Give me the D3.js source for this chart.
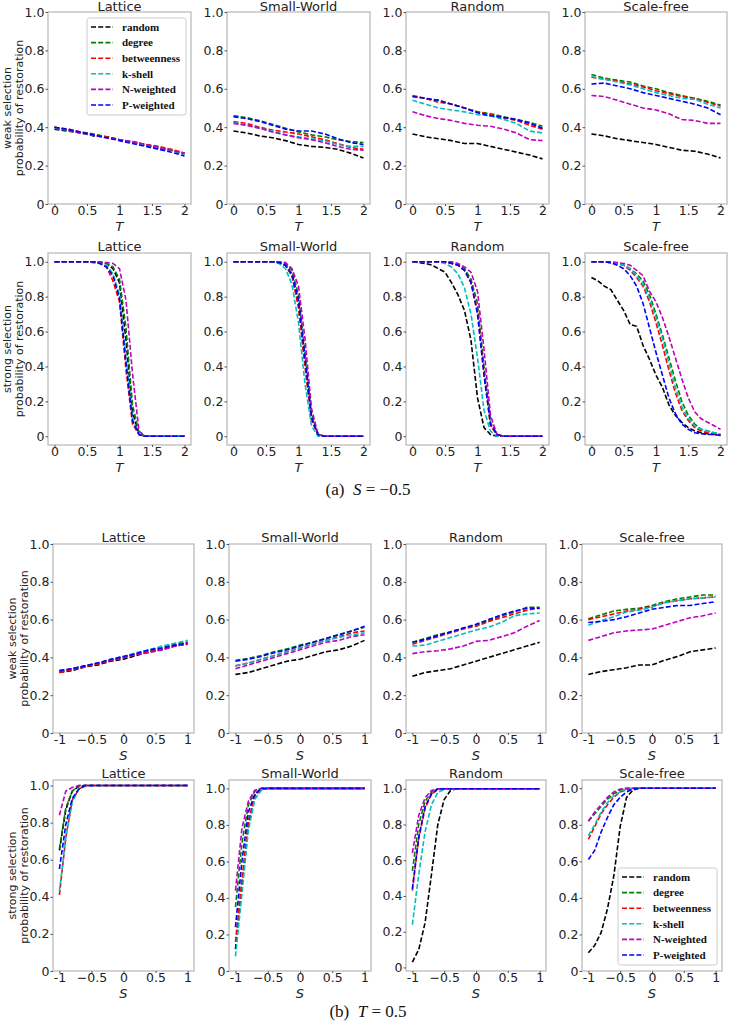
<!DOCTYPE html>
<html>
<head>
<meta charset="utf-8">
<script src="https://cdn.jsdelivr.net/npm/d3@7"></script>
<style>
  body { margin: 0; background: #fff; }
  svg text { font-family: "DejaVu Sans", sans-serif; }
</style>
</head>
<body>
<div id="chart"></div>
<script>
// x values
const T_COARSE = [0, 0.2, 0.4, 0.6, 0.8, 1.0, 1.2, 1.4, 1.6, 1.8, 2.0];
const T_FINE = [0, 0.1, 0.2, 0.3, 0.4, 0.5, 0.6, 0.7, 0.8, 0.9, 1.0, 1.1, 1.2, 1.3, 1.4, 1.5, 1.6, 1.7, 1.8, 1.9, 2.0];
const S_COARSE = [-1, -0.8, -0.6, -0.4, -0.2, 0, 0.2, 0.4, 0.6, 0.8, 1];
const S_FINE = [-1, -0.9, -0.8, -0.7, -0.6, -0.5, -0.4, -0.3, -0.2, -0.1, 0, 0.1, 0.2, 0.3, 0.4, 0.5, 0.6, 0.7, 0.8, 0.9, 1];

const methods = ["random", "degree", "betweenness", "k-shell", "N-weighted", "P-weighted"];
const methodColors = ["#000000", "#008000", "#ff0000", "#00bfbf", "#bf00bf", "#0000ff"];
const networks = ["Lattice", "Small-World", "Random", "Scale-free"];

const yTicks = [0, 0.2, 0.4, 0.6, 0.8, 1.0];
const yTickLabels = ["0", "0.2", "0.4", "0.6", "0.8", "1.0"];
const tTicks = [0, 0.5, 1, 1.5, 2];
const tTickLabels = ["0", "0.5", "1", "1.5", "2"];
const sTicks = [-1, -0.5, 0, 0.5, 1];
const sTickLabels = ["-1", "\u22120.5", "0", "0.5", "1"];

// (a) S = -0.5, weak selection, vs T (series order = methods)
const weakT_lattice = [
  [0.39, 0.38, 0.37, 0.355, 0.35, 0.335, 0.32, 0.305, 0.29, 0.28, 0.26],
  [0.40, 0.385, 0.375, 0.365, 0.35, 0.335, 0.32, 0.31, 0.295, 0.28, 0.265],
  [0.40, 0.39, 0.375, 0.36, 0.35, 0.335, 0.325, 0.31, 0.30, 0.285, 0.265],
  [0.395, 0.385, 0.37, 0.36, 0.345, 0.335, 0.32, 0.305, 0.295, 0.28, 0.26],
  [0.40, 0.385, 0.37, 0.36, 0.345, 0.335, 0.325, 0.31, 0.295, 0.28, 0.265],
  [0.40, 0.39, 0.375, 0.36, 0.345, 0.33, 0.315, 0.30, 0.285, 0.27, 0.25]
];
const weakT_smallworld = [
  [0.38, 0.37, 0.355, 0.345, 0.33, 0.31, 0.30, 0.295, 0.285, 0.265, 0.24],
  [0.46, 0.45, 0.435, 0.415, 0.395, 0.375, 0.36, 0.35, 0.335, 0.325, 0.32],
  [0.43, 0.42, 0.40, 0.385, 0.375, 0.365, 0.35, 0.335, 0.315, 0.295, 0.285],
  [0.425, 0.41, 0.395, 0.38, 0.36, 0.35, 0.34, 0.33, 0.31, 0.30, 0.30],
  [0.42, 0.41, 0.395, 0.375, 0.36, 0.345, 0.335, 0.32, 0.30, 0.285, 0.28],
  [0.455, 0.445, 0.43, 0.41, 0.39, 0.38, 0.38, 0.365, 0.34, 0.32, 0.31]
];
const weakT_random = [
  [0.365, 0.35, 0.34, 0.33, 0.315, 0.315, 0.30, 0.285, 0.27, 0.255, 0.235],
  [0.56, 0.55, 0.54, 0.52, 0.50, 0.48, 0.47, 0.455, 0.44, 0.425, 0.405],
  [0.565, 0.55, 0.53, 0.52, 0.50, 0.48, 0.465, 0.45, 0.435, 0.41, 0.39],
  [0.54, 0.52, 0.50, 0.49, 0.48, 0.465, 0.46, 0.44, 0.42, 0.38, 0.37],
  [0.48, 0.46, 0.445, 0.435, 0.42, 0.41, 0.405, 0.39, 0.37, 0.335, 0.33],
  [0.56, 0.55, 0.54, 0.52, 0.50, 0.475, 0.46, 0.45, 0.44, 0.42, 0.395]
];
const weakT_scalefree = [
  [0.365, 0.355, 0.34, 0.33, 0.32, 0.31, 0.295, 0.28, 0.275, 0.26, 0.24],
  [0.675, 0.655, 0.645, 0.635, 0.615, 0.60, 0.58, 0.565, 0.55, 0.535, 0.515],
  [0.66, 0.65, 0.64, 0.625, 0.61, 0.59, 0.575, 0.56, 0.55, 0.53, 0.51],
  [0.665, 0.65, 0.635, 0.62, 0.60, 0.58, 0.565, 0.55, 0.545, 0.52, 0.50],
  [0.565, 0.56, 0.54, 0.52, 0.50, 0.49, 0.47, 0.44, 0.435, 0.42, 0.42],
  [0.625, 0.63, 0.615, 0.60, 0.58, 0.565, 0.55, 0.535, 0.52, 0.50, 0.465]
];

// (a) S = -0.5, strong selection, vs T
const strongT_lattice = [
  [1, 1, 1, 1, 1, 1, 1, 0.995, 0.99, 0.96, 0.88, 0.55, 0.14, 0.01, 0, 0, 0, 0, 0, 0, 0],
  [1, 1, 1, 1, 1, 1, 1, 0.995, 0.99, 0.97, 0.90, 0.62, 0.18, 0.02, 0, 0, 0, 0, 0, 0, 0],
  [1, 1, 1, 1, 1, 1, 0.995, 0.99, 0.97, 0.89, 0.77, 0.38, 0.07, 0.01, 0, 0, 0, 0, 0, 0, 0],
  [1, 1, 1, 1, 1, 1, 1, 0.99, 0.98, 0.93, 0.81, 0.45, 0.10, 0.01, 0, 0, 0, 0, 0, 0, 0],
  [1, 1, 1, 1, 1, 1, 1, 1, 0.995, 0.99, 0.96, 0.78, 0.36, 0.03, 0, 0, 0, 0, 0, 0, 0],
  [1, 1, 1, 1, 1, 1, 1, 0.99, 0.97, 0.92, 0.79, 0.42, 0.09, 0.01, 0, 0, 0, 0, 0, 0, 0]
];
const strongT_smallworld = [
  [1, 1, 1, 1, 1, 1, 1, 0.995, 0.98, 0.92, 0.75, 0.42, 0.10, 0.01, 0, 0, 0, 0, 0, 0, 0],
  [1, 1, 1, 1, 1, 1, 1, 1, 0.99, 0.95, 0.81, 0.48, 0.13, 0.01, 0, 0, 0, 0, 0, 0, 0],
  [1, 1, 1, 1, 1, 1, 1, 0.995, 0.98, 0.92, 0.74, 0.40, 0.09, 0.01, 0, 0, 0, 0, 0, 0, 0],
  [1, 1, 1, 1, 1, 1, 1, 0.99, 0.96, 0.87, 0.65, 0.30, 0.06, 0, 0, 0, 0, 0, 0, 0, 0],
  [1, 1, 1, 1, 1, 1, 1, 1, 0.995, 0.96, 0.86, 0.56, 0.16, 0.01, 0, 0, 0, 0, 0, 0, 0],
  [1, 1, 1, 1, 1, 1, 1, 0.995, 0.98, 0.93, 0.78, 0.45, 0.11, 0.01, 0, 0, 0, 0, 0, 0, 0]
];
const strongT_random = [
  [1, 0.995, 0.99, 0.98, 0.96, 0.94, 0.88, 0.81, 0.72, 0.55, 0.22, 0.05, 0.01, 0, 0, 0, 0, 0, 0, 0, 0],
  [1, 1, 1, 1, 1, 1, 0.995, 0.985, 0.96, 0.90, 0.76, 0.40, 0.08, 0.01, 0, 0, 0, 0, 0, 0, 0],
  [1, 1, 1, 1, 1, 1, 0.99, 0.98, 0.95, 0.88, 0.72, 0.36, 0.06, 0.01, 0, 0, 0, 0, 0, 0, 0],
  [1, 1, 1, 1, 1, 0.99, 0.97, 0.93, 0.85, 0.70, 0.45, 0.15, 0.03, 0, 0, 0, 0, 0, 0, 0, 0],
  [1, 1, 1, 1, 1, 1, 1, 0.99, 0.97, 0.94, 0.83, 0.50, 0.12, 0.01, 0, 0, 0, 0, 0, 0, 0],
  [1, 1, 1, 1, 1, 1, 0.99, 0.98, 0.95, 0.88, 0.70, 0.35, 0.07, 0.01, 0, 0, 0, 0, 0, 0, 0]
];
const strongT_scalefree = [
  [0.91, 0.89, 0.86, 0.84, 0.78, 0.72, 0.64, 0.63, 0.52, 0.44, 0.35, 0.28, 0.18, 0.12, 0.08, 0.05, 0.03, 0.02, 0.015, 0.01, 0.005],
  [1, 1, 1, 0.995, 0.99, 0.98, 0.96, 0.93, 0.89, 0.81, 0.70, 0.58, 0.45, 0.32, 0.20, 0.12, 0.07, 0.04, 0.03, 0.02, 0.01],
  [1, 1, 1, 0.995, 0.99, 0.98, 0.95, 0.91, 0.86, 0.77, 0.65, 0.52, 0.38, 0.25, 0.15, 0.09, 0.05, 0.03, 0.02, 0.015, 0.01],
  [1, 1, 1, 0.995, 0.99, 0.98, 0.96, 0.92, 0.87, 0.79, 0.68, 0.56, 0.42, 0.28, 0.17, 0.10, 0.06, 0.04, 0.03, 0.02, 0.01],
  [1, 1, 1, 1, 0.995, 0.99, 0.98, 0.95, 0.92, 0.83, 0.77, 0.68, 0.57, 0.45, 0.33, 0.22, 0.14, 0.10, 0.08, 0.06, 0.04],
  [1, 1, 1, 0.995, 0.98, 0.96, 0.92, 0.86, 0.76, 0.62, 0.48, 0.35, 0.22, 0.13, 0.07, 0.04, 0.02, 0.015, 0.01, 0.01, 0.005]
];

// (b) T = 0.5, weak selection, vs S
const weakS_lattice = [
  [0.32, 0.33, 0.35, 0.36, 0.38, 0.39, 0.41, 0.43, 0.44, 0.46, 0.47],
  [0.325, 0.34, 0.355, 0.37, 0.385, 0.40, 0.42, 0.435, 0.45, 0.47, 0.48],
  [0.32, 0.335, 0.35, 0.365, 0.385, 0.40, 0.415, 0.43, 0.445, 0.46, 0.47],
  [0.33, 0.34, 0.355, 0.37, 0.39, 0.405, 0.425, 0.44, 0.46, 0.475, 0.49],
  [0.325, 0.34, 0.355, 0.37, 0.385, 0.40, 0.415, 0.425, 0.44, 0.46, 0.48],
  [0.33, 0.34, 0.355, 0.37, 0.39, 0.405, 0.42, 0.44, 0.45, 0.465, 0.475]
];
const weakS_smallworld = [
  [0.31, 0.32, 0.34, 0.36, 0.38, 0.39, 0.41, 0.43, 0.44, 0.46, 0.49],
  [0.385, 0.395, 0.41, 0.43, 0.445, 0.465, 0.48, 0.50, 0.52, 0.54, 0.56],
  [0.355, 0.37, 0.39, 0.41, 0.43, 0.45, 0.47, 0.49, 0.51, 0.53, 0.54],
  [0.355, 0.37, 0.39, 0.41, 0.43, 0.45, 0.47, 0.49, 0.505, 0.52, 0.53],
  [0.34, 0.36, 0.38, 0.40, 0.42, 0.44, 0.46, 0.48, 0.49, 0.51, 0.52],
  [0.38, 0.39, 0.405, 0.425, 0.44, 0.46, 0.48, 0.50, 0.52, 0.54, 0.565]
];
const weakS_random = [
  [0.30, 0.32, 0.33, 0.34, 0.36, 0.38, 0.40, 0.42, 0.44, 0.46, 0.48],
  [0.48, 0.50, 0.52, 0.535, 0.555, 0.57, 0.595, 0.62, 0.64, 0.665, 0.665],
  [0.47, 0.49, 0.51, 0.53, 0.55, 0.565, 0.59, 0.61, 0.63, 0.65, 0.66],
  [0.46, 0.465, 0.485, 0.505, 0.525, 0.545, 0.56, 0.585, 0.62, 0.63, 0.635],
  [0.42, 0.43, 0.435, 0.445, 0.46, 0.485, 0.49, 0.51, 0.53, 0.565, 0.595],
  [0.48, 0.495, 0.515, 0.535, 0.555, 0.575, 0.60, 0.625, 0.645, 0.66, 0.66]
];
const weakS_scalefree = [
  [0.31, 0.325, 0.335, 0.345, 0.36, 0.36, 0.385, 0.405, 0.43, 0.44, 0.45],
  [0.605, 0.625, 0.645, 0.655, 0.66, 0.675, 0.695, 0.71, 0.72, 0.73, 0.73],
  [0.60, 0.615, 0.63, 0.645, 0.655, 0.67, 0.69, 0.70, 0.71, 0.715, 0.72],
  [0.57, 0.595, 0.615, 0.64, 0.65, 0.665, 0.69, 0.70, 0.71, 0.715, 0.72],
  [0.49, 0.51, 0.53, 0.54, 0.545, 0.55, 0.57, 0.59, 0.61, 0.62, 0.635],
  [0.585, 0.59, 0.60, 0.615, 0.635, 0.655, 0.665, 0.675, 0.675, 0.685, 0.695]
];

// (b) T = 0.5, strong selection, vs S
const strongS_lattice = [
  [0.65, 0.87, 0.97, 0.995, 1, 1, 1, 1, 1, 1, 1, 1, 1, 1, 1, 1, 1, 1, 1, 1, 1],
  [0.66, 0.88, 0.97, 1, 1, 1, 1, 1, 1, 1, 1, 1, 1, 1, 1, 1, 1, 1, 1, 1, 1],
  [0.41, 0.72, 0.92, 0.98, 1, 1, 1, 1, 1, 1, 1, 1, 1, 1, 1, 1, 1, 1, 1, 1, 1],
  [0.43, 0.72, 0.91, 0.98, 0.995, 1, 1, 1, 1, 1, 1, 1, 1, 1, 1, 1, 1, 1, 1, 1, 1],
  [0.84, 0.97, 0.99, 1, 1, 1, 1, 1, 1, 1, 1, 1, 1, 1, 1, 1, 1, 1, 1, 1, 1],
  [0.55, 0.79, 0.93, 0.98, 1, 1, 1, 1, 1, 1, 1, 1, 1, 1, 1, 1, 1, 1, 1, 1, 1]
];
const strongS_smallworld = [
  [0.12, 0.46, 0.80, 0.96, 0.995, 1, 1, 1, 1, 1, 1, 1, 1, 1, 1, 1, 1, 1, 1, 1, 1],
  [0.35, 0.70, 0.91, 0.985, 1, 1, 1, 1, 1, 1, 1, 1, 1, 1, 1, 1, 1, 1, 1, 1, 1],
  [0.16, 0.50, 0.82, 0.96, 0.995, 1, 1, 1, 1, 1, 1, 1, 1, 1, 1, 1, 1, 1, 1, 1, 1],
  [0.08, 0.42, 0.77, 0.94, 0.99, 1, 1, 1, 1, 1, 1, 1, 1, 1, 1, 1, 1, 1, 1, 1, 1],
  [0.44, 0.78, 0.93, 0.99, 1, 1, 1, 1, 1, 1, 1, 1, 1, 1, 1, 1, 1, 1, 1, 1, 1],
  [0.24, 0.60, 0.87, 0.97, 1, 1, 1, 1, 1, 1, 1, 1, 1, 1, 1, 1, 1, 1, 1, 1, 1]
];
const strongS_random = [
  [0.03, 0.10, 0.25, 0.52, 0.80, 0.94, 0.99, 1, 1, 1, 1, 1, 1, 1, 1, 1, 1, 1, 1, 1, 1],
  [0.54, 0.80, 0.93, 0.98, 1, 1, 1, 1, 1, 1, 1, 1, 1, 1, 1, 1, 1, 1, 1, 1, 1],
  [0.43, 0.72, 0.89, 0.97, 0.995, 1, 1, 1, 1, 1, 1, 1, 1, 1, 1, 1, 1, 1, 1, 1, 1],
  [0.24, 0.52, 0.76, 0.91, 0.98, 0.995, 1, 1, 1, 1, 1, 1, 1, 1, 1, 1, 1, 1, 1, 1, 1],
  [0.64, 0.85, 0.95, 0.99, 1, 1, 1, 1, 1, 1, 1, 1, 1, 1, 1, 1, 1, 1, 1, 1, 1],
  [0.44, 0.73, 0.90, 0.97, 1, 1, 1, 1, 1, 1, 1, 1, 1, 1, 1, 1, 1, 1, 1, 1, 1]
];
const strongS_scalefree = [
  [0.10, 0.14, 0.21, 0.34, 0.52, 0.79, 0.95, 0.99, 1, 1, 1, 1, 1, 1, 1, 1, 1, 1, 1, 1, 1],
  [0.82, 0.86, 0.90, 0.94, 0.97, 0.99, 1, 1, 1, 1, 1, 1, 1, 1, 1, 1, 1, 1, 1, 1, 1],
  [0.72, 0.79, 0.86, 0.91, 0.95, 0.98, 0.99, 1, 1, 1, 1, 1, 1, 1, 1, 1, 1, 1, 1, 1, 1],
  [0.74, 0.80, 0.87, 0.92, 0.96, 0.98, 0.995, 1, 1, 1, 1, 1, 1, 1, 1, 1, 1, 1, 1, 1, 1],
  [0.82, 0.87, 0.91, 0.95, 0.98, 0.995, 1, 1, 1, 1, 1, 1, 1, 1, 1, 1, 1, 1, 1, 1, 1],
  [0.61, 0.66, 0.76, 0.84, 0.91, 0.95, 0.98, 0.995, 1, 1, 1, 1, 1, 1, 1, 1, 1, 1, 1, 1, 1]
];

// ---- layout ----
const W = 730, H = 1022;
const topCols = [[48, 191], [227, 370], [406, 549], [585, 727]];
const botCols = [[53, 194], [229, 371], [406, 546], [582, 722]];

const rows = [
  { cols: topCols, top: 12, bottom: 204, xs: T_COARSE, xDom: [-0.1, 2.1], xt: tTicks, xl: tTickLabels, xName: "T",
    yDoms: [[0, 1], [0, 1], [0, 1], [0, 1]], data: [weakT_lattice, weakT_smallworld, weakT_random, weakT_scalefree],
    ylab: "weak selection", legend: { col: 0, pos: "upper" } },
  { cols: topCols, top: 253, bottom: 445, xs: T_FINE, xDom: [-0.1, 2.1], xt: tTicks, xl: tTickLabels, xName: "T",
    yDoms: [[-0.05, 1.05], [-0.05, 1.05], [-0.05, 1.05], [-0.05, 1.05]], data: [strongT_lattice, strongT_smallworld, strongT_random, strongT_scalefree],
    ylab: "strong selection" },
  { cols: botCols, top: 544, bottom: 733, xs: S_COARSE, xDom: [-1.1, 1.1], xt: sTicks, xl: sTickLabels, xName: "S",
    yDoms: [[0, 1], [0, 1], [0, 1], [0, 1]], data: [weakS_lattice, weakS_smallworld, weakS_random, weakS_scalefree],
    ylab: "weak selection" },
  { cols: botCols, top: 780, bottom: 971, xs: S_FINE, xDom: [-1.1, 1.1], xt: sTicks, xl: sTickLabels, xName: "S",
    yDoms: [[0, 1.03], [0, 1.046], [-0.02, 1.049], [0, 1.045]], data: [strongS_lattice, strongS_smallworld, strongS_random, strongS_scalefree],
    ylab: "strong selection", legend: { col: 3, pos: "lower" } }
];

const svg = d3.select("#chart").append("svg")
  .attr("width", W).attr("height", H);

const FS = 12.5;     // tick labels
const FS_T = 13;     // titles, axis names

rows.forEach(function (row) {
  row.cols.forEach(function (c, ci) {
    const left = c[0], right = c[1];
    const x = d3.scaleLinear().domain(row.xDom).range([left, right]);
    const y = d3.scaleLinear().domain(row.yDoms[ci]).range([row.bottom, row.top]);
    const g = svg.append("g");

    // lines
    const line = d3.line().x((d, i) => x(row.xs[i])).y(d => y(d));
    row.data[ci].forEach(function (vals, si) {
      g.append("path")
        .attr("d", line(vals))
        .attr("fill", "none")
        .attr("stroke", methodColors[si])
        .attr("stroke-width", 1.6)
        .attr("stroke-dasharray", "5,2.2");
    });

    // frame
    g.append("rect")
      .attr("x", left).attr("y", row.top)
      .attr("width", right - left).attr("height", row.bottom - row.top)
      .attr("fill", "none").attr("stroke", "#b0b0b0").attr("stroke-width", 1.1);

    // axes
    const xa = g.append("g").attr("transform", `translate(0,${row.bottom})`)
      .call(d3.axisBottom(x).tickValues(row.xt).tickFormat((d, i) => row.xl[i]).tickSize(2).tickSizeOuter(0).tickPadding(0.5));
    const ya = g.append("g").attr("transform", `translate(${left},0)`)
      .call(d3.axisLeft(y).tickValues(yTicks).tickFormat((d, i) => yTickLabels[i]).tickSize(2.5).tickSizeOuter(0).tickPadding(1));
    [xa, ya].forEach(function (a) {
      a.select(".domain").remove();
      a.selectAll(".tick line").attr("stroke", "#555");
      a.selectAll(".tick text").attr("fill", "#222").style("font-size", FS + "px").style("font-family", "DejaVu Sans");
    });

    // x label
    g.append("text")
      .attr("x", (left + right) / 2).attr("y", row.bottom + 26.5)
      .attr("text-anchor", "middle").attr("fill", "#222")
      .style("font-size", FS_T + "px").style("font-style", "italic")
      .text(row.xName);

    // title
    g.append("text")
      .attr("x", (left + right) / 2).attr("y", Math.max(row.top - 2.5, 10.5))
      .attr("text-anchor", "middle").attr("fill", "#222")
      .style("font-size", FS_T + "px")
      .text(networks[ci]);

    // y label (first column)
    if (ci === 0) {
      const cy = (row.top + row.bottom) / 2;
      [[row.ylab, left - 40.5], ["probability of restoration", left - 29]].forEach(function (t) {
        g.append("text")
          .attr("transform", `translate(${t[1]},${cy}) rotate(-90)`)
          .attr("text-anchor", "middle").attr("dy", "0.35em").attr("fill", "#222")
          .style("font-size", "11px")
          .text(t[0]);
      });
    }

    // legend
    if (row.legend && row.legend.col === ci) {
      const bw = 99, bh = 97, sp = 15.6;
      const bx = right - 5 - bw;
      const by = row.legend.pos === "upper" ? row.top + 6 : row.bottom - 6 - bh;
      const lg = g.append("g");
      lg.append("rect")
        .attr("x", bx).attr("y", by).attr("width", bw).attr("height", bh)
        .attr("rx", 2.5).attr("fill", "#fff").attr("fill-opacity", 0.85)
        .attr("stroke", "#cccccc").attr("stroke-width", 1);
      methods.forEach(function (m, i) {
        const ry = by + 9 + i * sp;
        lg.append("line")
          .attr("x1", bx + 4).attr("x2", bx + 26).attr("y1", ry).attr("y2", ry)
          .attr("stroke", methodColors[i]).attr("stroke-width", 1.6).attr("stroke-dasharray", "5,2.2");
        lg.append("text")
          .attr("x", bx + 35).attr("y", ry + 3.8)
          .attr("fill", "#111")
          .style("font-family", "Liberation Serif, Times New Roman, serif")
          .style("font-weight", "bold").style("font-size", "11px")
          .text(m);
      });
    }
  });
});

// captions
function caption(yPos, tag, variable, value) {
  const t = svg.append("text")
    .attr("x", 368).attr("y", yPos).attr("text-anchor", "middle")
    .attr("fill", "#111")
    .style("font-family", "Liberation Serif, Times New Roman, serif")
    .style("font-size", "17px");
  t.append("tspan").text(tag + "\u2002");
  t.append("tspan").style("font-style", "italic").text(variable);
  t.append("tspan").text(" = " + value);
}
caption(495, "(a)", "S", "\u22120.5");
caption(1017, "(b)", "T", "0.5");
</script>
</body>
</html>
